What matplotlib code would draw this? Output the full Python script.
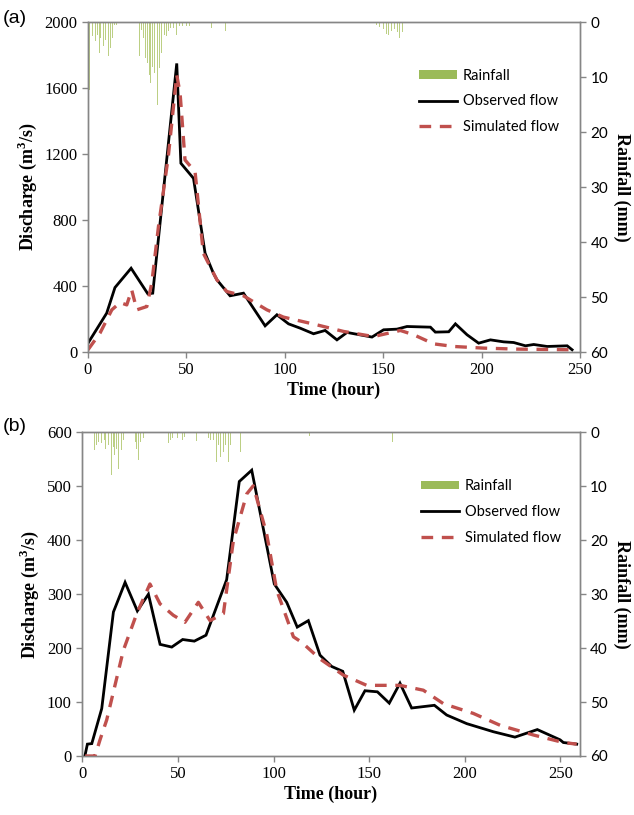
import matplotlib.pyplot as plt
from matplotlib.lines import Line2D
from matplotlib.patches import Patch

# ---- panel (a) data ----
obs_a_t = [0, 9.5, 13.7, 21.9, 30.4, 32.9, 45.1, 47.2, 53.6, 59.5, 63.7, 65.5, 72.2, 79, 90, 96,
           101.9, 107.8, 114.6, 120.5, 126.5, 131.6, 144.3, 150.2, 157, 162.1, 174, 176.5, 183.3,
           186.7, 192.6, 198.5, 204.5, 211.2, 216.3, 222.3, 226.5, 233.3, 243.5, 246]
obs_a_q = [54, 236, 391, 508, 353, 357, 1749, 1144, 1053, 599, 478, 438, 341, 357, 159, 226,
           171, 145, 111, 131, 74, 119, 91, 135, 139, 155, 151, 121, 123,
           171, 105, 54, 74, 62, 58, 38, 46, 34, 38, 14]
sim_a_t = [0, 6.1, 12.1, 16.3, 19.7, 22.2, 24.8, 29.9, 32.4, 35.8, 40.8, 45.1, 46.8, 49.3, 54.4,
           58.6, 65.5, 70.5, 79, 90.9, 99.3, 116.3, 129.9, 145.1, 158.7, 165.5, 175.6, 185.8,
           201.1, 218, 246]
sim_a_q = [14, 115, 256, 300, 286, 377, 256, 276, 418, 760, 1184, 1679, 1568, 1164, 1093,
           599, 438, 367, 341, 256, 212, 165, 125, 94, 131, 105, 50, 34,
           24, 18, 14]
rain_a_t = [1, 2.4, 3.6, 4.7, 5.6, 6.6, 7.8, 9, 10.3, 11.5, 12.5, 13.6, 14.6,
            26.1, 27.1, 28.1, 29.3, 30.3, 31.2, 32, 32.9, 34, 35.3, 36.3, 37.5, 38.7, 39.7, 40.9,
            42.1, 43.4, 44.8, 46.6, 48.2, 49.9, 51.7, 63, 69.8,
            146.8, 148.3, 150, 151.5, 152.5, 154.2, 155.8, 157.5, 158.5, 159.6]
rain_a_mm = [12.3, 2.6, 3.5, 2.3, 5.6, 2.9, 4.4, 3.2, 6.2, 4.7, 2.9, 0.5, 0.5,
             6.2, 1.5, 2.9, 6.5, 7.5, 9.6, 11.1, 8.1, 9.3, 15.0, 8.4, 5.6, 2.3, 2.6, 1.7,
             1.1, 1.1, 2.3, 0.8, 0.8, 0.7, 0.8, 1.1, 1.7,
             0.5, 0.9, 1.2, 2.2, 2.4, 1.6, 1.2, 1.9, 2.9, 1.9]

# ---- panel (b) data ----
obs_b_t = [1.5, 2.7, 5.0, 10.2, 16.3, 22.4, 28.8, 34.6, 40.7, 46.8, 52.5, 58.6, 64.7, 75.5,
           82.1, 88.6, 100.4, 106.9, 112.4, 118.2, 124.3, 130.4, 136.2, 142.2, 147.8, 154.3,
           160.5, 166.1, 172.2, 184.1, 190.5, 201, 214.9, 226.2, 237.9, 249.8, 251.5, 258.5]
obs_b_q = [2, 22, 23, 88, 267, 322, 269, 300, 207, 202, 216, 213, 224, 327,
           509, 530, 319, 285, 239, 251, 187, 166, 157, 85, 121, 119,
           98, 135, 89, 94, 76, 60, 45, 35, 49, 30, 25, 22]
sim_b_t = [1.5, 6.7, 9.3, 12.8, 21.5, 28.5, 35.4, 40.7, 47.6, 53.7, 60.7, 66.8, 73.8, 79,
           86, 89.4, 96.4, 101.7, 110.4, 114.7, 124.3, 136.5, 148.7, 166.1, 178.3, 188.8,
           204.4, 218.4, 235.8, 251.5, 258.5]
sim_b_q = [0, 0, 30, 67, 196, 264, 319, 282, 261, 248, 285, 251, 264, 399,
           486, 501, 412, 307, 221, 211, 180, 150, 131, 131, 122, 97,
           79, 57, 39, 25, 22]
rain_b_t = [6.2, 7.6, 8.4, 9.3, 10.2, 11.4, 12.4, 13.7, 15.1, 16.3, 17.1, 18, 19.2, 20.6, 21.8,
            27.6, 28.5, 29.3, 30.6, 31.9,
            45, 45.9, 47.3, 48.5, 49.7, 51.1, 52.5, 53.7, 59.5,
            65.9, 67.2, 68.5, 70, 71.2, 72.4, 73.8, 75, 76.4, 77.6, 82.9, 119, 162]
rain_b_mm = [3.3, 2.4, 1.7, 7.0, 2.0, 1.4, 3.0, 2.4, 7.9, 2.7, 4.2, 3.0, 6.7, 3.3, 1.4,
             1.7, 3.0, 5.1, 1.7, 1.1,
             2.0, 1.4, 1.1, 0.8, 1.1, 0.8, 1.4, 0.8, 1.5,
             1.1, 1.4, 1.4, 5.4, 2.4, 4.5, 3.6, 2.4, 5.4, 2.4, 3.6, 0.6, 1.8]

SERIF = ['Liberation Serif', 'DejaVu Serif']
SANS = ['Lato', 'DejaVu Sans']
GRAY = '#868686'
RAIN_C = '#bccf84'
OBS_C = 'black'
SIM_C = '#c0504d'

fig = plt.figure(figsize=(6.34, 8.15), dpi=100)


def draw_panel(rect, obs_t, obs_q, sim_t, sim_q, rain_t, rain_mm, xmax, ymax, ystep, tag, tag_y, leg_xy):
    ax = fig.add_axes(rect)
    ax2 = ax.twinx()
    ax2.bar(rain_t, rain_mm, width=0.5, color=RAIN_C, linewidth=0)
    ax2.set_ylim(60, 0)
    ax2.set_yticks(range(0, 61, 10))

    ax.set_zorder(ax2.get_zorder() + 1)
    ax.patch.set_visible(False)
    ax.plot(obs_t, obs_q, color=OBS_C, lw=2.0, solid_joinstyle='miter')
    ax.plot(sim_t, sim_q, color=SIM_C, lw=2.4, dashes=(3.5, 2.6))
    ax.set_xlim(0, xmax)
    ax.set_ylim(0, ymax)
    ax.set_xticks(range(0, xmax + 1, 50))
    ax.set_yticks(range(0, ymax + 1, ystep))

    for a in (ax, ax2):
        for s in a.spines.values():
            s.set_color(GRAY)
            s.set_linewidth(1.0)
        a.tick_params(color=GRAY, length=4, width=1.0, direction='out')
    ax.tick_params(labelsize=12)
    for lab in ax.get_xticklabels() + ax.get_yticklabels():
        lab.set_family(SERIF)
    ax2.tick_params(labelsize=11)
    for lab in ax2.get_yticklabels():
        lab.set_family(SANS)

    ax.set_xlabel('Time (hour)', family=SERIF, fontweight='bold', fontsize=13, labelpad=2)
    ax.set_ylabel('Discharge (m$^\\mathregular{3}$/s)', family=SERIF, fontweight='bold',
                  fontsize=13, labelpad=4)
    ax2.set_ylabel('Rainfall (mm)', family=SERIF, fontweight='bold', fontsize=13,
                   rotation=-90, labelpad=16)

    handles = [Patch(facecolor='#9bbb59', edgecolor='none'),
               Line2D([], [], color=OBS_C, lw=2.0),
               Line2D([], [], color=SIM_C, lw=2.4, dashes=(3.5, 2.6))]
    ax.legend(handles, ['Rainfall', 'Observed flow', 'Simulated flow'],
              loc='upper left', bbox_to_anchor=leg_xy, bbox_transform=fig.transFigure,
              frameon=False, handlelength=2.6, handleheight=0.5, handletextpad=0.4,
              labelspacing=0.8, prop={'family': SANS, 'size': 10.5})
    fig.text(0.004, tag_y, tag, family=['Liberation Sans'], fontsize=14, va='center', ha='left')
    return ax


draw_panel([0.1388, 0.568, 0.776, 0.405], obs_a_t, obs_a_q, sim_a_t, sim_a_q,
           rain_a_t, rain_a_mm, 250, 2000, 400, '(a)', 0.977, (0.64, 0.932))
draw_panel([0.1297, 0.0724, 0.7845, 0.397], obs_b_t, obs_b_q, sim_b_t, sim_b_q,
           rain_b_t, rain_b_mm, 260, 600, 100, '(b)', 0.477, (0.643, 0.428))

fig.savefig('out.png', dpi=100)
